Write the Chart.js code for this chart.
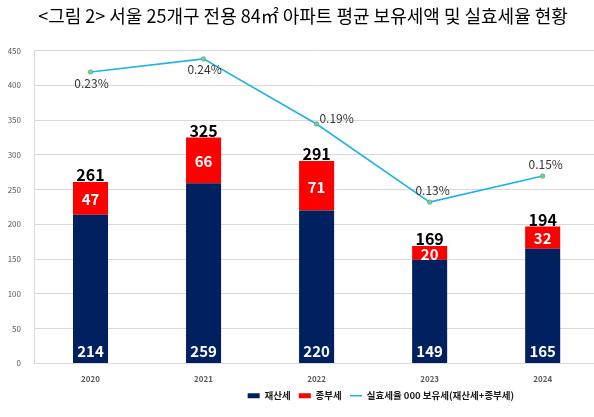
<!DOCTYPE html>
<html>
<head>
<meta charset="utf-8">
<script src="https://cdn.jsdelivr.net/npm/chart.js@4"></script>
<style>
  html, body { margin: 0; padding: 0; background: #fff; overflow: hidden; }
  #wrap { width: 604px; height: 417px; }
</style>
</head>
<body>
<div id="wrap"><canvas id="myChart" width="604" height="417"></canvas></div>
<script>
const years = ['2020', '2021', '2022', '2023', '2024'];
const propertyTax = [214, 259, 220, 149, 165];   // 재산세
const compTax = [47, 66, 71, 20, 32];            // 종부세
const totalTax = [261, 325, 291, 169, 194];      // 보유세 (labels as printed)
const effRate = [0.23, 0.24, 0.19, 0.13, 0.15];  // 실효세율 (%)
const yTicks = [0, 50, 100, 150, 200, 250, 300, 350, 400, 450];

// where each % label sits relative to its point
const rateLabelPos = ['below', 'below', 'right', 'above', 'above'];

const KR = '"Noto Sans CJK KR", "Noto Sans", sans-serif';

// legend squeezed, title + legend moved sideways (reference is cropped on the right)
const shiftBlocks = {
    id: 'shiftBlocks',
    afterInit(chart) {
        const l = chart.legend;
        const fit = l.fit;
        l.fit = function () {
            fit.call(this);
            this.height = 12;
        };
    },
    afterLayout(chart) {
        const t = chart.titleBlock;
        if (t) { t.left += 2; t.right += 2; }
        const l = chart.legend;
        if (l) {
            const dx = 382 - (l.left + l.right) / 2;
            l.left += dx; l.right += dx;
            l.top -= 10; l.bottom += 10;
        }
    }
};

const valueLabels = {
    id: 'valueLabels',
    afterDatasetsDraw(chart) {
        const ctx = chart.ctx;
        const navy = chart.getDatasetMeta(0).data;
        const red = chart.getDatasetMeta(1).data;
        const pts = chart.getDatasetMeta(2).data;
        ctx.save();
        ctx.textAlign = 'center';
        ctx.textBaseline = 'middle';
        ctx.font = 'bold 15px ' + KR;
        ctx.fillStyle = '#ffffff';
        navy.forEach((bar, i) => {
            ctx.fillText(propertyTax[i], bar.x, bar.base - 12);
        });
        red.forEach((bar, i) => {
            ctx.fillText(compTax[i], bar.x, (bar.y + bar.base) / 2 + 1);
        });
        ctx.fillStyle = '#000000';
        ctx.font = 'bold 16px ' + KR;
        ctx.textBaseline = 'bottom';
        red.forEach((bar, i) => {
            ctx.fillText(totalTax[i], bar.x, bar.y + 1);
        });
        ctx.font = '12px ' + KR;
        ctx.fillStyle = '#333333';
        ctx.textBaseline = 'middle';
        pts.forEach((p, i) => {
            const txt = effRate[i].toFixed(2) + '%';
            const pos = rateLabelPos[i];
            if (pos === 'below') ctx.fillText(txt, p.x + 1, p.y + 11);
            else if (pos === 'above') ctx.fillText(txt, p.x + 3, p.y - 12);
            else ctx.fillText(txt, p.x + 20, p.y - 6);
        });
        ctx.restore();
    }
};

const ctx = document.getElementById('myChart').getContext('2d');

const comboChart = new Chart(ctx, {
    type: 'bar',
    data: {
        labels: years,
        datasets: [{
            label: '재산세',
            data: propertyTax,
            backgroundColor: '#002060',
            stack: 'tax',
            order: 2,
        }, {
            label: '종부세',
            data: compTax,
            backgroundColor: '#ff0000',
            stack: 'tax',
            order: 2,
        }, {
            type: 'line',
            label: '실효세율 000 보유세(재산세+종부세)',
            data: effRate,
            yAxisID: 'y1',
            borderColor: '#1fb2ea',
            borderWidth: 1.6,
            pointRadius: 2.2,
            pointBackgroundColor: '#a6c93a',
            pointBorderColor: '#1fb2ea',
            pointBorderWidth: 0.8,
            tension: 0,
            order: 1,
        }],
    },
    options: {
        responsive: false,
        animation: false,
        layout: { padding: { left: 0, right: 2, top: 0, bottom: 10 } },
        datasets: {
            bar: { barPercentage: 0.31, categoryPercentage: 1.0 }
        },
        scales: {
            x: {
                stacked: true,
                grid: { display: false, drawTicks: false },
                border: { color: '#d9d9d9', width: 1 },
                ticks: {
                    color: '#595959',
                    font: { family: KR, size: 8, weight: 'bold' },
                    padding: 11,
                },
            },
            y: {
                stacked: true,
                min: 0,
                max: 450,
                afterBuildTicks(scale) {
                    scale.ticks = yTicks.map(v => ({ value: v }));
                },
                afterFit(scale) { scale.width = 34; },
                grid: { color: '#d9d9d9', drawTicks: false, lineWidth: 1 },
                border: { color: '#d9d9d9', width: 1 },
                ticks: {
                    color: '#595959',
                    font: { family: KR, size: 8 },
                    padding: 13,
                },
            },
            y1: {
                display: false,
                min: 0.0061,
                max: 0.2464,
            },
        },
        plugins: {
            title: {
                display: true,
                text: '<그림 2> 서울 25개구 전용 84㎡ 아파트 평균 보유세액 및 실효세율 현황',
                color: '#000000',
                font: { family: KR, size: 18, weight: 'normal' },
                padding: { top: 5, bottom: 24 },
            },
            legend: {
                position: 'bottom',
                labels: {
                    usePointStyle: true,
                    pointStyleWidth: 12,
                    boxHeight: 5,
                    padding: 6,
                    color: '#1a1a1a',
                    font: { family: KR, size: 9.5, weight: 'bold' },
                    generateLabels(chart) {
                        return chart.data.datasets.map((ds, i) => ({
                            text: ds.label + ' ',
                            fillStyle: ds.type === 'line' ? ds.pointBackgroundColor : ds.backgroundColor,
                            strokeStyle: ds.type === 'line' ? ds.borderColor : ds.backgroundColor,
                            lineWidth: ds.type === 'line' ? 1.5 : 0,
                            pointStyle: ds.type === 'line' ? 'line' : 'rect',
                            fontColor: '#1a1a1a',
                            datasetIndex: i,
                        }));
                    },
                },
            },
            tooltip: { enabled: false },
        },
    },
    plugins: [shiftBlocks, valueLabels],
});
</script>
</body>
</html>
